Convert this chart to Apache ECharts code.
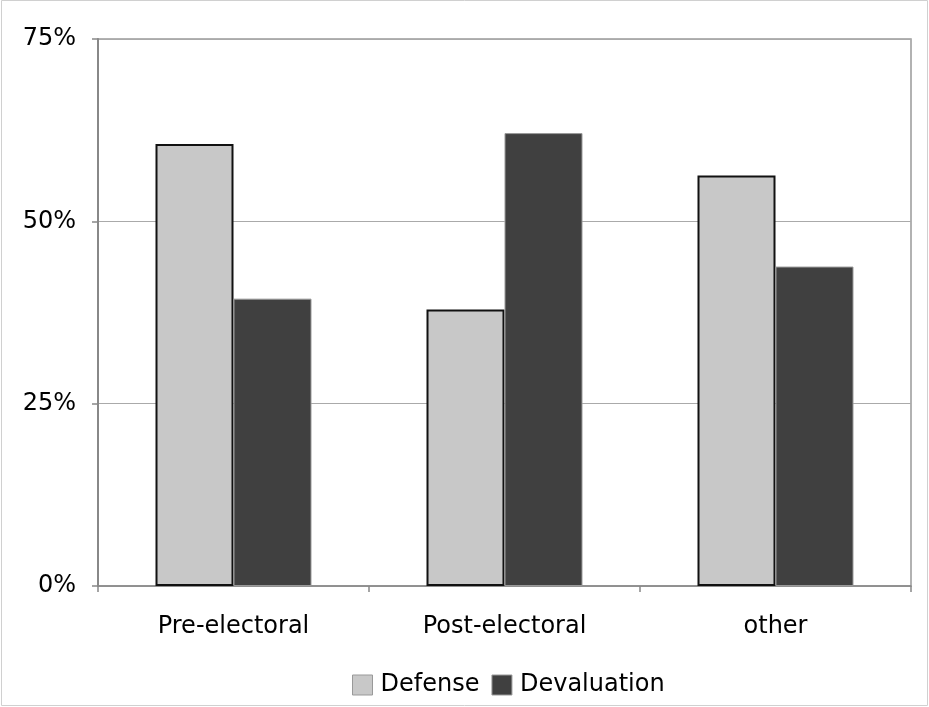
<!DOCTYPE html>
<html><head><meta charset="utf-8">
<script src="https://cdn.jsdelivr.net/npm/echarts@6/dist/echarts.min.js"></script>
<style>html,body{margin:0;padding:0;background:#fff}#c{width:929px;height:707px}</style>
</head><body><div id="c"></div>
<script>
const categories = ['Pre-electoral', 'Post-electoral', 'other'];
const defense = [60.6, 37.9, 56.3];
const devaluation = [39.4, 62.1, 43.8];
const yTicks = [0, 25, 50, 75];

const chart = echarts.init(document.getElementById('c'));
const font = 'DejaVu Sans';
chart.setOption({
  animation: false,
  backgroundColor: '#fff',
  graphic: [{type:'rect', shape:{x:1.5,y:0.5,width:926,height:705}, style:{fill:'none', stroke:'#d0d0d0', lineWidth:1}, silent:true}],
  grid: {left: 98, right: 18, top: 39, bottom: 121, show: true, borderColor: '#999', borderWidth: 1.5, containLabel: false},
  legend: {
    bottom: 5, left: 347, itemWidth: 20, itemHeight: 20, itemGap: 12,
    icon: 'rect',
    textStyle: {fontFamily: font, fontSize: 24, color: '#000', padding: [0, 0, 0, 3]},
    itemStyle: {borderColor: '#999', borderWidth: 1},
    data: ['Defense', 'Devaluation']
  },
  xAxis: {
    type: 'category', data: categories,
    axisLine: {lineStyle: {color: '#888', width: 1.5}},
    axisTick: {show: true, length: 6, lineStyle: {color: '#888', width: 1.5}},
    axisLabel: {fontFamily: font, fontSize: 24, color: '#000', margin: 29}
  },
  yAxis: {
    type: 'value', min: 0, max: 75, interval: 25,
    axisLine: {show: true, lineStyle: {color: '#888', width: 2}},
    axisTick: {show: true, length: 6, lineStyle: {color: '#888', width: 1.5}},
    splitLine: {lineStyle: {color: '#aaa', width: 1}},
    axisLabel: {fontFamily: font, fontSize: 24, color: '#000', margin: 22,
      formatter: v => yTicks.includes(v) ? v + '%' : ''}
  },
  series: [
    {name: 'Defense', type: 'bar', data: defense, barWidth: 78, barGap: '0%',
     itemStyle: {color: '#c8c8c8', borderColor: '#111', borderWidth: 2}},
    {name: 'Devaluation', type: 'bar', data: devaluation, barWidth: 78,
     itemStyle: {color: '#404040', borderColor: '#999', borderWidth: 1}}
  ]
});
</script></body></html>
